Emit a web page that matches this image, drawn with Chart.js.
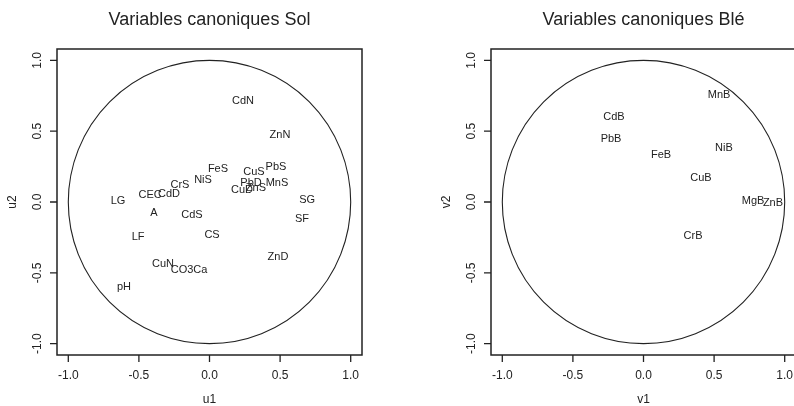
<!DOCTYPE html>
<html>
<head>
<meta charset="utf-8">
<script src="https://cdn.jsdelivr.net/npm/chart.js@4.4.1/dist/chart.umd.min.js"></script>
<style>
  body { margin: 0; width: 794px; height: 406px; overflow: hidden; background: #fff; position: relative; }
  .panel { position: absolute; top: 0; width: 434px; height: 406px; }
</style>
</head>
<body>
<div class="panel" style="left:0"><canvas id="solChart" width="434" height="406"></canvas></div>
<div class="panel" style="left:434px"><canvas id="bleChart" width="434" height="406"></canvas></div>
<script>
// canonical variables, soil side
var solNames = ["CdN","ZnN","PbS","CuS","FeS","NiS","CrS","CEC","CdD","LG","A","CdS","PbD","MnS","CuD","ZnS","SG","SF","CS","LF","ZnD","CuN","CO3Ca","pH"];
var solU1 = [0.237, 0.499, 0.471, 0.315, 0.060, -0.046, -0.209, -0.421, -0.287, -0.648, -0.393, -0.124, 0.294, 0.478, 0.230, 0.329, 0.691, 0.655, 0.018, -0.506, 0.485, -0.329, -0.145, -0.606];
var solU2 = [0.713, 0.473, 0.247, 0.212, 0.233, 0.155, 0.120, 0.049, 0.056, 0.007, -0.078, -0.092, 0.134, 0.134, 0.085, 0.099, 0.014, -0.120, -0.233, -0.247, -0.388, -0.438, -0.480, -0.600];

// canonical variables, wheat side
var bleNames = ["MnB","CdB","PbB","FeB","NiB","CuB","MgB","ZnB","CrB"];
var bleV1 = [0.535, -0.209, -0.230, 0.124, 0.570, 0.407, 0.776, 0.917, 0.351];
var bleV2 = [0.755, 0.600, 0.445, 0.332, 0.381, 0.169, 0.007, -0.007, -0.240];

var tickValues = [-1, -0.5, 0, 0.5, 1];
var axisLimit = 1.08;
var ink = "#222";

function toPoints(xs, ys, names) {
  var pts = [];
  for (var i = 0; i < xs.length; i++) pts.push({x: xs[i], y: ys[i], name: names[i]});
  return pts;
}

// box, unit circle, R-like axes and text labels
var canonPlot = {
  id: "canonPlot",
  afterDraw: function (chart, args, opts) {
    var ctx = chart.ctx, a = chart.chartArea;
    var xs = chart.scales.x, ys = chart.scales.y;
    ctx.save();
    ctx.strokeStyle = ink;
    ctx.fillStyle = ink;

    // title
    ctx.font = "18px 'Liberation Sans', Arial, sans-serif";
    ctx.textAlign = "center";
    ctx.textBaseline = "middle";
    ctx.fillText(opts.title, (a.left + a.right) / 2, 20);

    // circle of radius 1
    var cx = xs.getPixelForValue(0), cy = ys.getPixelForValue(0);
    var rx = xs.getPixelForValue(1) - cx, ry = cy - ys.getPixelForValue(1);
    ctx.lineWidth = 1.1;
    ctx.beginPath();
    ctx.ellipse(cx, cy, rx, ry, 0, 0, Math.PI * 2);
    ctx.stroke();

    // frame
    ctx.lineWidth = 1.5;
    ctx.strokeRect(a.left, a.top, a.right - a.left, a.bottom - a.top);

    // x axis ticks
    ctx.font = "12px 'Liberation Sans', Arial, sans-serif";
    ctx.lineWidth = 1.3;
    ctx.beginPath();
    tickValues.forEach(function (v) {
      var px = xs.getPixelForValue(v);
      ctx.moveTo(px, a.bottom);
      ctx.lineTo(px, a.bottom + 7);
    });
    tickValues.forEach(function (v) {
      var py = ys.getPixelForValue(v);
      ctx.moveTo(a.left, py);
      ctx.lineTo(a.left - 7, py);
    });
    ctx.stroke();
    tickValues.forEach(function (v) {
      ctx.fillText(v.toFixed(1), xs.getPixelForValue(v), a.bottom + 21);
    });
    tickValues.forEach(function (v) {
      ctx.save();
      ctx.translate(a.left - 19, ys.getPixelForValue(v));
      ctx.rotate(-Math.PI / 2);
      ctx.fillText(v.toFixed(1), 0, 0);
      ctx.restore();
    });

    // axis names
    ctx.fillText(opts.xName, cx, a.bottom + 45);
    ctx.save();
    ctx.translate(a.left - 44, (a.top + a.bottom) / 2);
    ctx.rotate(-Math.PI / 2);
    ctx.fillText(opts.yName, 0, 0);
    ctx.restore();

    // variable names at their coordinates
    ctx.font = "11px 'Liberation Sans', Arial, sans-serif";
    chart.data.datasets[0].data.forEach(function (p) {
      ctx.fillText(p.name, xs.getPixelForValue(p.x), ys.getPixelForValue(p.y));
    });
    ctx.restore();
  }
};

function makeChart(id, pts, title, xName, yName) {
  return new Chart(document.getElementById(id), {
    type: "scatter",
    data: { datasets: [{ data: pts, pointRadius: 0, pointHoverRadius: 0 }] },
    options: {
      responsive: false,
      animation: false,
      events: [],
      layout: { padding: { left: 57, right: 72, top: 49, bottom: 51 } },
      scales: {
        x: { min: -axisLimit, max: axisLimit, display: false },
        y: { min: -axisLimit, max: axisLimit, display: false }
      },
      plugins: {
        legend: { display: false },
        tooltip: { enabled: false },
        canonPlot: { title: title, xName: xName, yName: yName }
      }
    },
    plugins: [canonPlot]
  });
}

makeChart("solChart", toPoints(solU1, solU2, solNames), "Variables canoniques Sol", "u1", "u2");
makeChart("bleChart", toPoints(bleV1, bleV2, bleNames), "Variables canoniques Blé", "v1", "v2");
</script>
</body>
</html>
